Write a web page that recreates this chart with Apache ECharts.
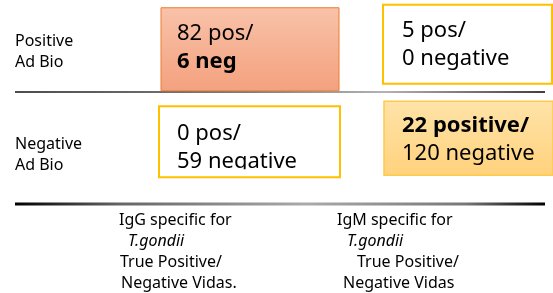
<!DOCTYPE html>
<html>
<head>
<meta charset="utf-8">
<script src="https://cdn.jsdelivr.net/npm/echarts@6/dist/echarts.min.js"></script>
<style>
  html, body { margin: 0; padding: 0; background: #fff; }
  #chart { width: 553px; height: 293px; }
</style>
</head>
<body>
<div id="chart"></div>
<script>
const rowNames = ['Positive\nAd Bio', 'Negative\nAd Bio'];
const colNames = ['IgG specific for', 'IgM specific for'];
const colLines = [
    ['IgG specific for', 'T.gondii', 'True Positive/', 'Negative Vidas.'],
    ['IgM specific for', 'T.gondii', 'True Positive/', 'Negative Vidas']
];

// one entry per cell: IgG/Pos, IgM/Pos, IgG/Neg, IgM/Neg
const cellCol = [0, 1, 0, 1];
const cellRow = [0, 0, 1, 1];
const posCount = [82, 5, 0, 22];
const negCount = [6, 0, 59, 120];
const posWord = ['pos', 'pos', 'pos', 'positive'];
const negWord = ['neg', 'negative', 'negative', 'negative'];

const FONT = '"Noto Sans", "Open Sans", sans-serif';
const lg = echarts.graphic.LinearGradient;

// box geometry relative to the cell's axis coordinate
const boxLayout = [
    { dx: 42, dy: -44, w: 178, h: 83, tx: 58, ty: -32, boldLine: 1,
      fill: new lg(0, 0, 0, 1, [{ offset: 0, color: '#f8c2a9' }, { offset: 1, color: '#f4a17e' }]),
      stroke: '#ed7d31', lw: 1 },
    { dx: 46, dy: -47, w: 169, h: 79, tx: 65, ty: -35, boldLine: -1,
      fill: '#fff', stroke: '#ffc000', lw: 2 },
    { dx: 40, dy: -49, w: 181, h: 71, tx: 58, ty: -36, boldLine: -1, cut: 14,
      fill: '#fff', stroke: '#ffc000', lw: 2 },
    { dx: 47, dy: -54, w: 169, h: 74, tx: 65, ty: -44, boldLine: 0,
      fill: new lg(0, 0, 0, 1, [{ offset: 0, color: '#ffe3a8' }, { offset: 1, color: '#ffd27d' }]),
      stroke: '#ffc94a', lw: 1.5 }
];

const xIndent = [[0, 9, 1, 2], [0, 10, 20, 6]];

const xRich = {};
xIndent.forEach(arr => arr.forEach(p => {
    xRich['n' + p] = { fontFamily: FONT, fontSize: 16, lineHeight: 21, color: '#000', padding: [0, 0, 0, p] };
    xRich['i' + p] = { fontFamily: FONT, fontSize: 16, lineHeight: 21, color: '#000', fontStyle: 'italic', padding: [0, 0, 0, p] };
}));

const cellRich = {
    a: { fontFamily: FONT, fontSize: 22, lineHeight: 28, fill: '#000' },
    b: { fontFamily: FONT, fontSize: 22, lineHeight: 28, fill: '#000', fontWeight: 'bold' }
};

const chart = echarts.init(document.getElementById('chart'));

const seriesData = cellCol.map((c, i) => [c, cellRow[i], posCount[i], negCount[i]]);

const option = {
    animation: false,
    grid: { left: 10, width: 436, top: -1, height: 208 },
    xAxis: {
        type: 'category',
        data: colNames,
        axisLine: { show: false },
        axisTick: { show: false },
        splitLine: { show: false },
        axisLabel: {
            align: 'left',
            verticalAlign: 'top',
            margin: 3,
            interval: 0,
            formatter: (v, idx) => colLines[idx].map((t, k) => {
                const key = (k === 1 ? 'i' : 'n') + xIndent[idx][k];
                return '{' + key + '|' + t + '}';
            }).join('\n'),
            rich: xRich
        }
    },
    yAxis: {
        type: 'category',
        data: rowNames,
        inverse: true,
        axisLine: { show: false },
        axisTick: { show: false },
        splitLine: { show: false },
        axisLabel: {
            align: 'left',
            margin: -5,
            fontFamily: FONT,
            fontSize: 16,
            lineHeight: 21,
            color: '#000'
        }
    },
    graphic: [
        {
            type: 'line',
            shape: { x1: 15, y1: 92, x2: 545, y2: 92 },
            style: {
                lineWidth: 1.5,
                stroke: new lg(15, 0, 545, 0, [
                    { offset: 0, color: '#111' }, { offset: 0.45, color: '#555' },
                    { offset: 0.7, color: '#999' }, { offset: 1, color: '#000' }], true)
            }
        },
        {
            type: 'line',
            shape: { x1: 15, y1: 204, x2: 545, y2: 204 },
            style: {
                lineWidth: 3,
                stroke: new lg(15, 0, 545, 0, [
                    { offset: 0, color: '#000' }, { offset: 0.2, color: '#666' },
                    { offset: 0.55, color: '#aaa' }, { offset: 0.85, color: '#777' },
                    { offset: 1, color: '#000' }], true)
            }
        }
    ],
    series: [{
        type: 'custom',
        coordinateSystem: 'cartesian2d',
        data: seriesData,
        renderItem: (params, api) => {
            const i = params.dataIndex;
            const c = api.coord([api.value(0), api.value(1)]);
            const b = boxLayout[i];
            const x = c[0] + b.dx;
            const y = c[1] + b.dy;
            const l1 = posCount[i] + ' ' + posWord[i] + '/';
            const l2 = negCount[i] + ' ' + negWord[i];
            const text = '{' + (b.boldLine === 0 ? 'b' : 'a') + '|' + l1 + '}\n' +
                         '{' + (b.boldLine === 1 ? 'b' : 'a') + '|' + l2 + '}';
            const children = [
                { type: 'rect', z2: 1, shape: { x: x, y: y, width: b.w, height: b.h },
                  style: { fill: b.fill } },
                { type: 'text', z2: 2, x: c[0] + b.tx, y: c[1] + b.ty,
                  style: { text: text, rich: cellRich, verticalAlign: 'top', align: 'left',
                           fill: '#000', fontFamily: FONT, fontSize: 22 } }
            ];
            if (b.cut) {
                const cy = c[1] + b.cut;
                children.push({ type: 'rect', z2: 3,
                    shape: { x: x, y: cy, width: b.w, height: y + b.h - cy },
                    style: { fill: '#fff' } });
            }
            children.push({ type: 'rect', z2: 4, shape: { x: x, y: y, width: b.w, height: b.h },
                style: { fill: 'none', stroke: b.stroke, lineWidth: b.lw } });
            return { type: 'group', children: children };
        }
    }]
};

chart.setOption(option);
</script>
</body>
</html>
